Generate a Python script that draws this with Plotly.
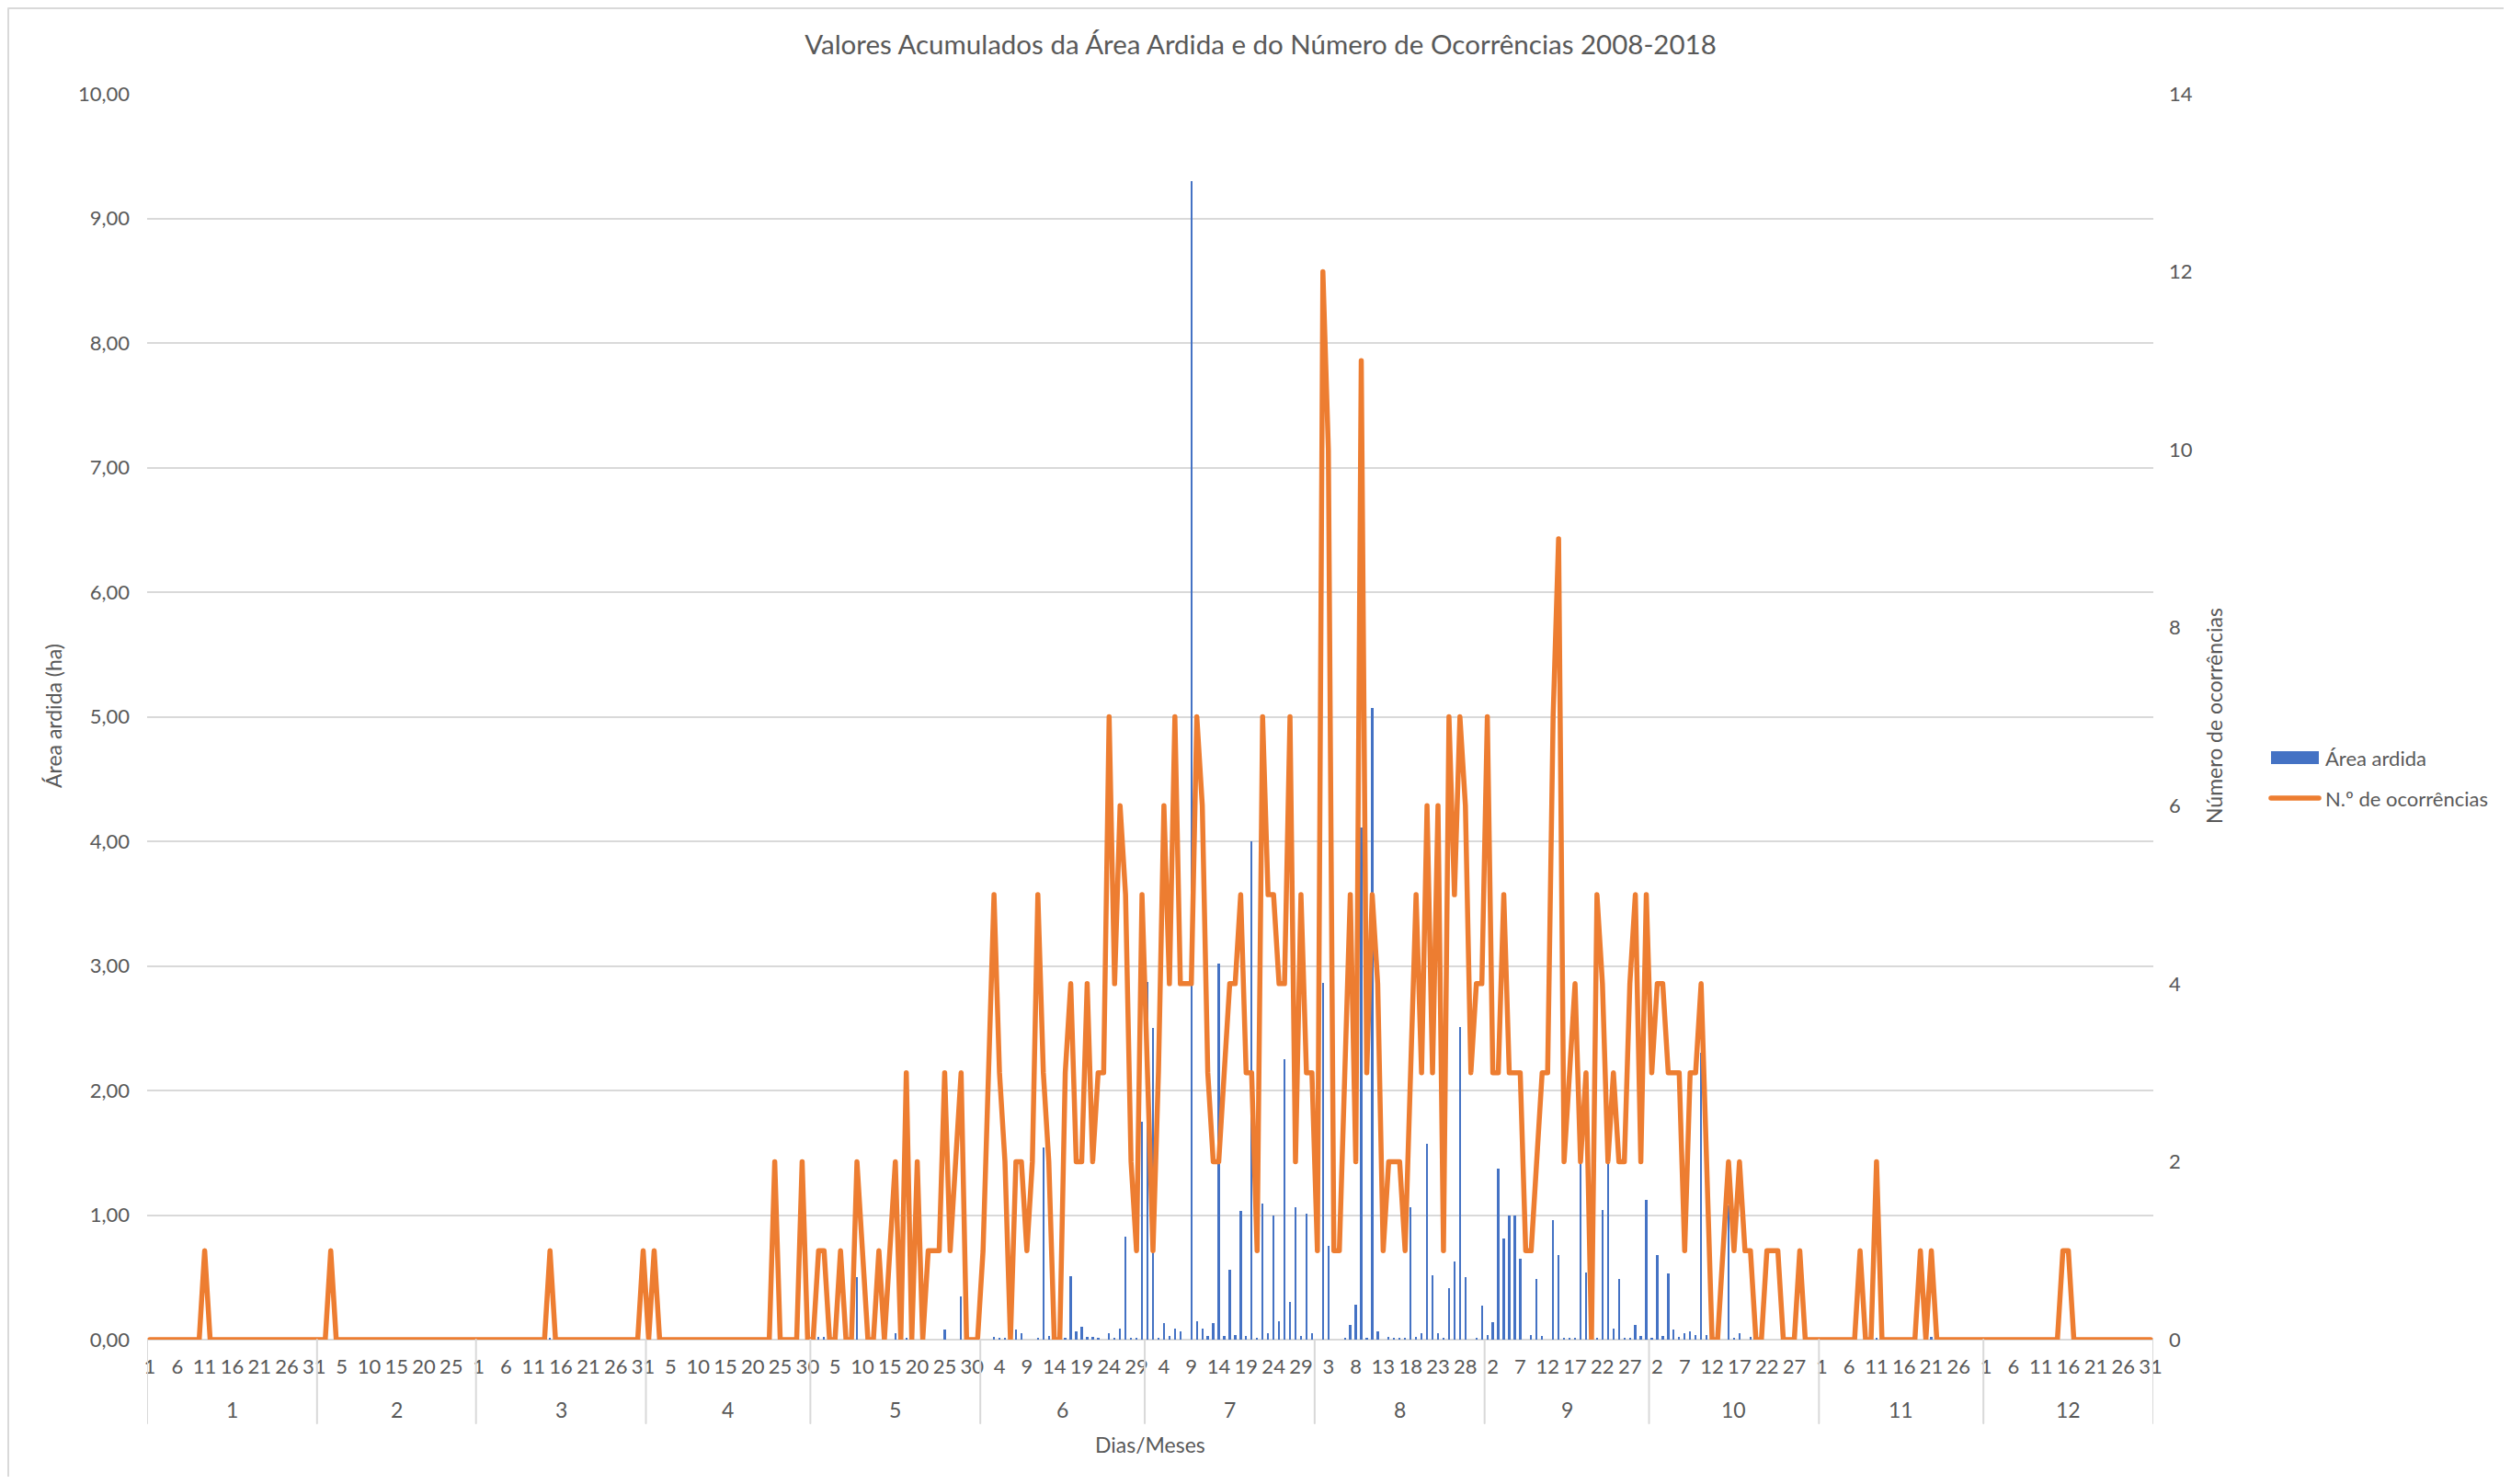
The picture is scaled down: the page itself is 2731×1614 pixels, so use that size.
import plotly.graph_objects as go

# ---------------- data ----------------
month_labels = ["1", "2", "3", "4", "5", "6", "7", "8", "9", "10", "11", "12"]
days_in_month = [31, 29, 31, 30, 31, 30, 31, 31, 30, 31, 30, 31]

# N.º de ocorrências (per day, per month)
occ_jan = [0,0,0,0,0,0,0,0,0,0,1,0,0,0,0,0,0,0,0,0,0,0,0,0,0,0,0,0,0,0,0]
occ_feb = [0,0,1,0,0,0,0,0,0,0,0,0,0,0,0,0,0,0,0,0,0,0,0,0,0,0,0,0,0]
occ_mar = [0,0,0,0,0,0,0,0,0,0,0,0,0,1,0,0,0,0,0,0,0,0,0,0,0,0,0,0,0,0,1]
occ_apr = [0,1,0,0,0,0,0,0,0,0,0,0,0,0,0,0,0,0,0,0,0,0,0,2,0,0,0,0,2,0]
occ_may = [0,1,1,0,0,1,0,0,2,1,0,0,1,0,1,2,0,3,0,2,0,1,1,1,3,1,2,3,0,0,0]
occ_jun = [1,3,5,3,2,0,2,2,1,2,5,3,2,0,0,3,4,2,2,4,2,3,3,7,4,6,5,2,1,5]
occ_jul = [3,1,3,6,4,7,4,4,4,7,6,3,2,2,3,4,4,5,3,3,1,7,5,5,4,4,7,2,5,3,3]
occ_aug = [1,12,10,1,1,3,5,2,11,3,5,4,1,2,2,2,1,3,5,3,6,3,6,1,7,5,7,6,3,4,4]
occ_sep = [7,3,3,5,3,3,3,1,1,2,3,3,7,9,2,3,4,2,3,0,5,4,2,3,2,2,4,5,2,5]
occ_oct = [3,4,4,3,3,3,1,3,3,4,2,0,0,1,2,1,2,1,1,0,0,1,1,1,0,0,0,1,0,0,0]
occ_nov = [0,0,0,0,0,0,0,1,0,0,2,0,0,0,0,0,0,0,1,0,1,0,0,0,0,0,0,0,0,0]
occ_dec = [0,0,0,0,0,0,0,0,0,0,0,0,0,0,1,1,0,0,0,0,0,0,0,0,0,0,0,0,0,0,0]

# Área ardida (ha) (per day, per month)
area_jan = [0,0,0,0,0,0,0,0,0,0,0,0,0,0,0,0,0,0,0,0,0,0,0,0,0,0,0,0,0,0,0]
area_feb = [0,0,0,0,0,0,0,0,0,0,0,0,0,0,0,0,0,0,0,0,0,0,0,0,0,0,0,0,0]
area_mar = [0,0,0,0,0,0,0,0,0,0,0,0,0,0.01,0,0,0,0,0,0,0,0,0,0,0,0,0,0,0,0,0]
area_apr = [0,0,0,0,0,0,0,0,0,0,0,0,0,0,0,0,0,0,0,0,0,0,0,0,0,0,0,0,0,0]
area_may = [0,0.02,0.02,0,0,0,0,0,0.5,0,0,0,0,0,0,0.05,0,0.01,0,0,0,0,0,0,0.08,0,0,0.35,0,0,0]
area_jun = [0,0,0.02,0.01,0.01,0,0.08,0.05,0,0,0.01,1.54,0.03,0,0,0.01,0.51,0.07,0.1,0.02,
            0.02,0.01,0,0.05,0.01,0.09,0.83,0.01,0.01,1.75]
area_jul = [2.87,2.5,0.01,0.13,0.03,0.09,0.07,0,9.3,0.15,0.09,0.03,0.13,3.02,0.03,0.56,0.04,1.03,
            0.03,4.0,0.01,1.09,0.05,1.0,0.15,2.25,0.3,1.06,0.03,1.01,0.05]
area_aug = [0,2.86,0.75,0,0,0.01,0.12,0.28,4.11,0.01,5.07,0.07,0,0.02,0.01,0.01,0.01,1.06,0.02,
            0.05,1.57,0.52,0.05,0.01,0.41,0.63,2.51,0.5,0,0.01,0.27]
area_sep = [0.04,0.14,1.37,0.81,1.0,1.0,0.65,0,0.04,0.49,0.03,0,0.96,0.68,0.01,0.01,0.01,1.42,
            0.54,0,0.01,1.04,1.42,0.09,0.49,0.01,0.01,0.12,0.03,1.12]
area_oct = [0.01,0.68,0.03,0.53,0.08,0.02,0.05,0.07,0.04,2.3,0.04,0,0,0,1.08,0.01,0.05,0,0.02,0,
            0,0,0,0,0,0,0,0,0,0,0]
area_nov = [0,0,0,0,0,0,0,0,0,0,0.01,0,0,0,0,0,0,0,0,0,0.02,0,0,0,0,0,0,0,0,0]
area_dec = [0,0,0,0,0,0,0,0,0,0,0,0,0,0,0,0,0,0,0,0,0,0,0,0,0,0,0,0,0,0,0]

title_text = "Valores Acumulados da Área Ardida e do Número de Ocorrências 2008-2018"
y_left_title = "Área ardida (ha)"
y_right_title = "Número de ocorrências"
x_title = "Dias/Meses"
name_area = "Área ardida"
name_occ = "N.º de ocorrências"

# ---------------- assemble ----------------
occ_months = [occ_jan, occ_feb, occ_mar, occ_apr, occ_may, occ_jun,
              occ_jul, occ_aug, occ_sep, occ_oct, occ_nov, occ_dec]
area_months = [area_jan, area_feb, area_mar, area_apr, area_may, area_jun,
               area_jul, area_aug, area_sep, area_oct, area_nov, area_dec]

ocorrencias = [v for m in occ_months for v in m]
area = [v for m in area_months for v in m]
day_numbers = [d for n in days_in_month for d in range(1, n + 1)]
x = list(range(len(day_numbers)))

tickvals = x[::5]
ticktext = [str(day_numbers[i]) for i in tickvals]

month_start = []
s = 0
for n in days_in_month:
    month_start.append(s)
    s += n

# ---------------- layout geometry ----------------
W, H = 2715, 1598
ML, MR, MT, MB = 152, 381, 94, 149
PW = W - ML - MR
PH = H - MT - MB
OFF = 8  # body margin in page


def px(page_x):
    return (page_x - OFF - ML) / PW


def py(page_y):
    return 1 - (page_y - OFF - MT) / PH


FONT = "Lato"
GREY = "#595959"
GRID = "#d9d9d9"
BLUE = "#4472C4"
ORANGE = "#ED7D31"
LINE_W = 5.5

fig = go.Figure()
fig.add_trace(go.Bar(x=x, y=area, name=name_area, marker=dict(color=BLUE, line=dict(width=0)),
                     width=0.38, showlegend=False))
fig.add_trace(go.Scatter(x=x, y=ocorrencias, name=name_occ, yaxis="y2", mode="lines",
                         line=dict(color=ORANGE, width=LINE_W), cliponaxis=False, showlegend=False))

shapes = []
# month dividers in the category axis
for st in month_start + [len(x)]:
    shapes.append(dict(type="line", xref="x", yref="paper", x0=st - 0.5, x1=st - 0.5,
                       y0=0, y1=py(1548), line=dict(color=GRID, width=2)))
# chart border (top / left)
shapes.append(dict(type="rect", xref="paper", yref="paper", x0=px(9), x1=px(2760),
                   y0=py(1640), y1=py(9), line=dict(color=GRID, width=2), layer="below"))
# legend symbols
shapes.append(dict(type="rect", xref="paper", yref="paper", x0=px(2470), x1=px(2522),
                   y0=py(831), y1=py(817), fillcolor=BLUE, line=dict(width=0)))
shapes.append(dict(type="line", xref="paper", yref="paper", x0=px(2470), x1=px(2522),
                   y0=py(868), y1=py(868), line=dict(color=ORANGE, width=LINE_W)))

annotations = []
for i, lab in enumerate(month_labels):
    annotations.append(dict(x=month_start[i] + (days_in_month[i] - 1) / 2, y=py(1533),
                            xref="x", yref="paper", text=lab, showarrow=False,
                            font=dict(family=FONT, size=23, color=GREY),
                            xanchor="center", yanchor="middle"))
annotations.append(dict(x=0.5, y=py(1571), xref="paper", yref="paper", text=x_title,
                        showarrow=False, font=dict(family=FONT, size=23, color=GREY),
                        xanchor="center", yanchor="middle"))
annotations.append(dict(x=px(58), y=py(779), xref="paper", yref="paper", text=y_left_title,
                        showarrow=False, textangle=-90, font=dict(family=FONT, size=23, color=GREY),
                        xanchor="center", yanchor="middle"))
annotations.append(dict(x=px(2408), y=py(779), xref="paper", yref="paper", text=y_right_title,
                        showarrow=False, textangle=-90, font=dict(family=FONT, size=23, color=GREY),
                        xanchor="center", yanchor="middle"))
annotations.append(dict(x=px(2527), y=py(824), xref="paper", yref="paper", text=name_area,
                        showarrow=False, font=dict(family=FONT, size=22, color=GREY),
                        xanchor="left", yanchor="middle"))
annotations.append(dict(x=px(2527), y=py(868), xref="paper", yref="paper", text=name_occ,
                        showarrow=False, font=dict(family=FONT, size=22, color=GREY),
                        xanchor="left", yanchor="middle"))

fig.update_layout(
    width=W, height=H,
    margin=dict(l=ML, r=MR, t=MT, b=MB, pad=0),
    paper_bgcolor="white", plot_bgcolor="white",
    separators=", ",
    bargap=0,
    title=dict(text=title_text, x=(1363) / W, xref="container", xanchor="center",
               y=1 - 41 / H, yref="container", yanchor="middle",
               font=dict(family=FONT, size=29.5, color=GREY)),
    xaxis=dict(range=[-0.5, len(x) - 0.5], tickmode="array", tickvals=tickvals, ticktext=ticktext,
               showgrid=False, zeroline=False, showline=False, ticks="",
               tickfont=dict(family=FONT, size=22, color=GREY), tickangle=0,
               ticklabelstandoff=14),
    yaxis=dict(range=[0, 10], dtick=1, tickformat=".2f", showgrid=True, gridcolor=GRID,
               gridwidth=2, zeroline=True, zerolinecolor=GRID, zerolinewidth=2, showline=False,
               ticks="", tickfont=dict(family=FONT, size=22, color=GREY), ticklabelstandoff=18),
    yaxis2=dict(range=[0, 14], dtick=2, overlaying="y", side="right", showgrid=False,
                zeroline=False, showline=False, ticks="",
                tickfont=dict(family=FONT, size=22, color=GREY), ticklabelstandoff=16),
    shapes=shapes,
    annotations=annotations,
    showlegend=False,
)

round_joins = """
var gd = document.getElementById('{plot_id}');
function rj() {
  gd.querySelectorAll('.scatterlayer .js-line, .shapelayer path').forEach(function(p) {
    p.style.strokeLinejoin = 'round';
    p.style.strokeLinecap = 'round';
  });
}
rj();
gd.on('plotly_afterplot', rj);
"""

fig.write_html("out.html", post_script=round_joins)
